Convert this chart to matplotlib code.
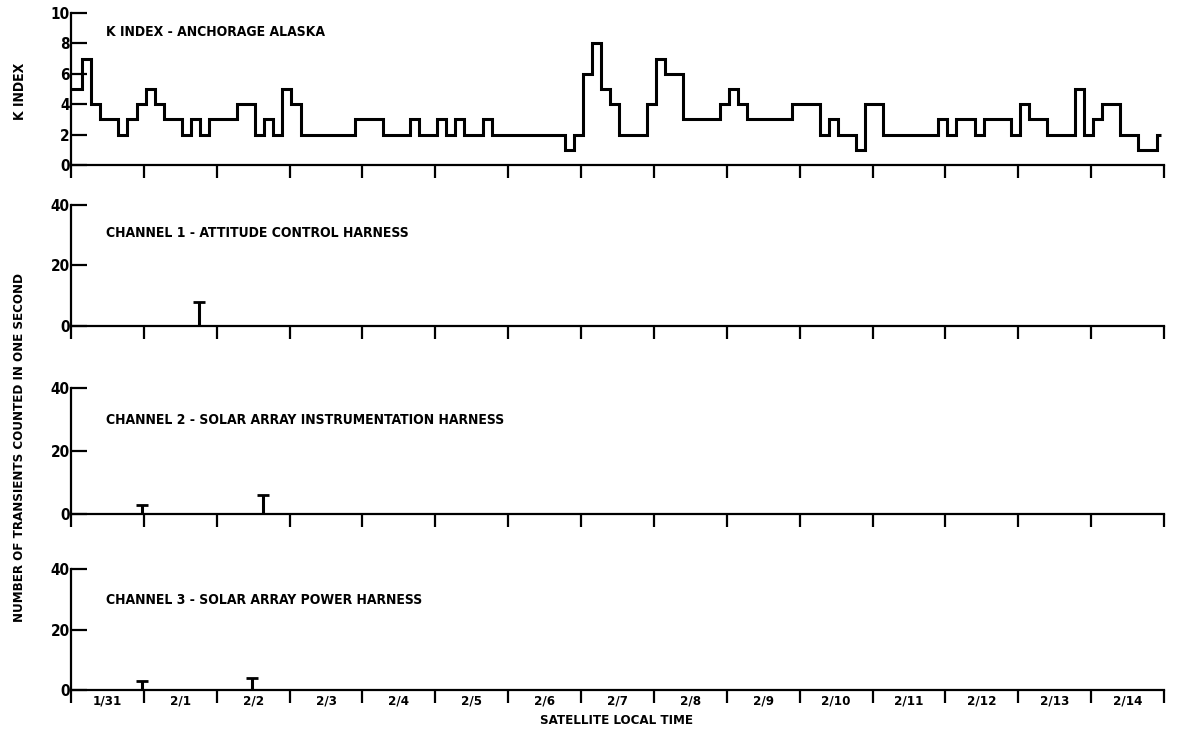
import numpy as np
import matplotlib
matplotlib.use("Agg")
import matplotlib.pyplot as plt

# ---- data -------------------------------------------------------------
# Day labels along the satellite-local-time axis (one slot per day)
day_labels = ["1/31", "2/1", "2/2", "2/3", "2/4", "2/5", "2/6", "2/7",
              "2/8", "2/9", "2/10", "2/11", "2/12", "2/13", "2/14"]

# Anchorage 3-hourly K index (first value starts 2.4 h before the axis origin)
k_index = [5, 5, 7, 4, 3, 3, 2, 3, 4, 5, 4, 3, 3, 2, 3, 2,
           3, 3, 3, 4, 4, 2, 3, 2, 5, 4, 2, 2, 2, 2, 2, 2,
           3, 3, 3, 2, 2, 2, 3, 2, 2, 3, 2, 3, 2, 2, 3, 2,
           2, 2, 2, 2, 2, 2, 2, 1, 2, 6, 8, 5, 4, 2, 2, 2,
           4, 7, 6, 6, 3, 3, 3, 3, 4, 5, 4, 3, 3, 3, 3, 3,
           4, 4, 4, 2, 3, 2, 2, 1, 4, 4, 2, 2, 2, 2, 2, 2,
           3, 2, 3, 3, 2, 3, 3, 3, 2, 4, 3, 3, 2, 2, 2, 5,
           2, 3, 4, 4, 2, 2, 1, 1, 2]
k_start_hour = -2.4       # start of the first 3-hour interval
k_end_day = 14.96         # last plotted instant of the record

# Transient counts (day position, counts per second)
ch1_days = [1.76]
ch1_counts = [8]
ch2_days = [0.97, 2.64]
ch2_counts = [3, 6]
ch3_days = [0.97, 2.48]
ch3_counts = [3, 4]

panel_titles = ["K INDEX - ANCHORAGE ALASKA",
                "CHANNEL 1 - ATTITUDE CONTROL HARNESS",
                "CHANNEL 2 - SOLAR ARRAY INSTRUMENTATION HARNESS",
                "CHANNEL 3 - SOLAR ARRAY POWER HARNESS"]

# ---- style ------------------------------------------------------------
FONT = ["Liberation Sans Narrow", "DejaVu Sans"]
plt.rcParams["font.family"] = FONT
plt.rcParams["font.weight"] = "bold"
plt.rcParams["font.stretch"] = "condensed"
W, H = 1180, 732
fig = plt.figure(figsize=(W / 100, H / 100), dpi=100)

LW_AX = 1.6
LW_TR = 2.2
left = 71 / W
width = (1164 - 71) / W


def make_axes(y0_px, ytop_px):
    ax = fig.add_axes([left, 1 - y0_px / H, width, (y0_px - ytop_px) / H])
    for s in ("top", "right"):
        ax.spines[s].set_visible(False)
    for s in ("left", "bottom"):
        ax.spines[s].set_linewidth(LW_AX)
    ax.set_xlim(0, 15)
    ax.set_xticks(np.arange(0, 16))
    ax.tick_params(axis="x", direction="out", length=9, width=LW_AX,
                   labelbottom=False)
    ax.tick_params(axis="y", direction="in", length=11.5, width=LW_AX,
                   pad=1, labelsize=11)
    return ax


# K index panel
ax0 = make_axes(165, 13)
ax0.set_ylim(0, 10)
ax0.set_yticks([0, 2, 4, 6, 8, 10])
edges = (k_start_hour + 3 * np.arange(len(k_index) + 1)) / 24
edges = np.clip(edges, 0, k_end_day)
ax0.stairs(k_index, edges, baseline=None, color="black", linewidth=LW_TR,
           clip_on=False)

# Channel panels
panels = [(325.7, 205, ch1_days, ch1_counts),
          (514, 388.3, ch2_days, ch2_counts),
          (690, 569.3, ch3_days, ch3_counts)]
axes = [ax0]
for y0, yt, days, counts in panels:
    ax = make_axes(y0, yt)
    ax.set_ylim(0, 40)
    ax.set_yticks([0, 20, 40])
    ax.vlines(days, 0, counts, color="black", linewidth=LW_TR)
    ax.plot(days, counts, linestyle="none", marker="_", markersize=8,
            markeredgewidth=2.0, color="black")
    axes.append(ax)

for ax in axes:
    for t in ax.get_yticklabels():
        t.set_fontweight("bold")
        t.set_fontstretch("condensed")

# Title text inside each panel
title_y = [0.873, 0.765, 0.748, 0.746]
for ax, title, ty in zip(axes, panel_titles, title_y):
    ax.text(0.032, ty, title, transform=ax.transAxes, ha="left",
            va="center", fontsize=10, fontweight="bold",
            fontstretch="condensed")

# Day labels centred between day ticks on the bottom panel
axb = axes[-1]
axb.set_xticks(np.arange(len(day_labels)) + 0.5, minor=True)
axb.set_xticklabels(day_labels, minor=True)
axb.tick_params(axis="x", which="minor", length=0, pad=3, labelsize=9.5,
                labelbottom=True)
for t in axb.get_xticklabels(minor=True):
    t.set_fontweight("bold")
    t.set_fontstretch("condensed")

fig.text(616 / W, 1 - 721 / H, "SATELLITE LOCAL TIME", ha="center",
         va="center", fontsize=9.5, fontweight="bold",
         fontstretch="condensed")
fig.text(20 / W, 1 - 91 / H, "K INDEX", rotation=90, ha="center",
         va="center", fontsize=10, fontweight="bold",
         fontstretch="condensed")
fig.text(20 / W, 1 - 448 / H, "NUMBER OF TRANSIENTS COUNTED IN ONE SECOND",
         rotation=90, ha="center", va="center", fontsize=9.5,
         fontweight="bold", fontstretch="condensed")

fig.savefig("out.png", dpi=100)
